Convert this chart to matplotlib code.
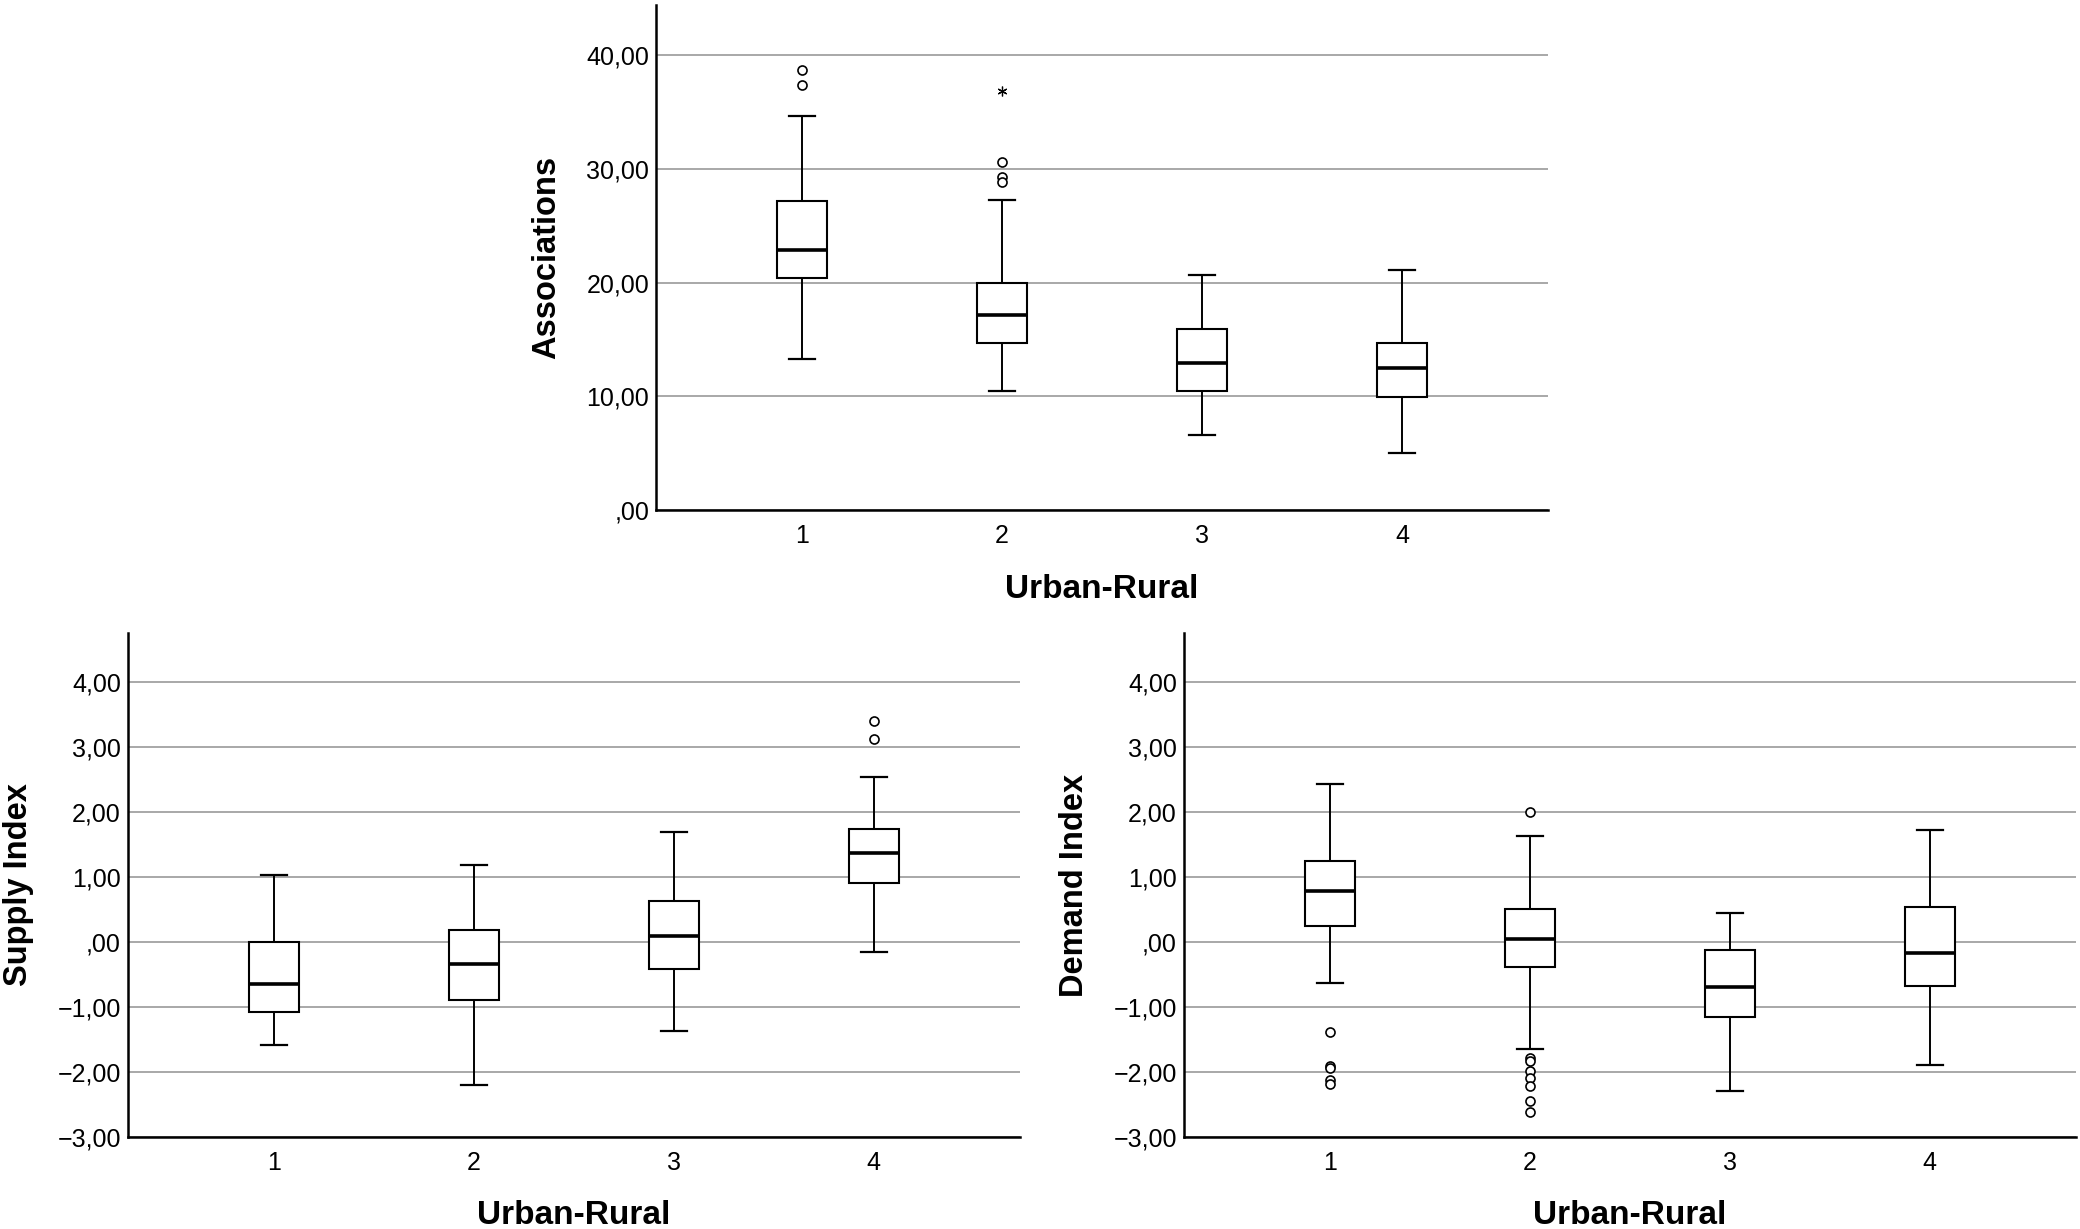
"""Box plots of associations, supply and demand index by urban-rural class."""
import matplotlib.pyplot as plt
from matplotlib.ticker import FuncFormatter

plt.rcParams["font.family"] = ["Liberation Sans", "DejaVu Sans"]

categories = ["1", "2", "3", "4"]

# Associations
assoc_lo = [13.3, 10.5, 6.6, 5.05]
assoc_q1 = [20.4, 14.7, 10.5, 9.9]
assoc_med = [22.9, 17.15, 12.95, 12.5]
assoc_q3 = [27.2, 19.95, 15.9, 14.7]
assoc_hi = [34.65, 27.25, 20.7, 21.1]
assoc_out = [[38.65, 37.4], [30.6, 29.3, 28.8], [], []]
assoc_extreme = [[], [36.8], [], []]

# Supply Index
supply_lo = [-1.59, -2.20, -1.37, -0.16]
supply_q1 = [-1.08, -0.89, -0.41, 0.91]
supply_med = [-0.65, -0.34, 0.09, 1.37]
supply_q3 = [-0.01, 0.18, 0.63, 1.73]
supply_hi = [1.03, 1.18, 1.69, 2.53]
supply_out = [[], [], [], [3.39, 3.12]]

# Demand Index
demand_lo = [-0.63, -1.65, -2.30, -1.90]
demand_q1 = [0.25, -0.38, -1.15, -0.68]
demand_med = [0.78, 0.05, -0.69, -0.17]
demand_q3 = [1.24, 0.50, -0.13, 0.53]
demand_hi = [2.43, 1.63, 0.44, 1.72]
demand_out = [[-1.38, -1.91, -1.94, -2.13, -2.18],
              [1.99, -1.78, -1.83, -1.98, -2.09, -2.22, -2.44, -2.62], [], []]


def spss_number(v, pos=None):
    """Formats tick values like SPSS with a decimal comma (",00", "−1,00")."""
    s = f"{abs(v):.2f}".replace(".", ",")
    if s.startswith("0"):
        s = s[1:]
    return ("\u2212" + s) if v < 0 else s


def boxPanel(ax, lo, q1, med, q3, hi, out, ylabel, ylim, yticks, extreme=None):
    """Draws one SPSS style box plot panel from summary statistics."""
    stats = []
    for i in range(len(categories)):
        stats.append({"whislo": lo[i], "q1": q1[i], "med": med[i], "q3": q3[i],
                      "whishi": hi[i], "fliers": out[i], "label": categories[i]})
    pos = list(range(1, len(categories) + 1))
    ax.bxp(stats, positions=pos, widths=0.25, patch_artist=True, capwidths=0.13,
           boxprops=dict(facecolor="white", edgecolor="black", linewidth=1.5),
           medianprops=dict(color="black", linewidth=2.6),
           whiskerprops=dict(color="black", linewidth=1.4),
           capprops=dict(color="black", linewidth=1.6),
           flierprops=dict(marker="o", markersize=6.5, markerfacecolor="white",
                           markeredgecolor="black", markeredgewidth=1.2, linestyle="none"),
           zorder=3)
    if extreme is not None:
        for p, vals in zip(pos, extreme):
            if vals:
                ax.plot([p] * len(vals), vals, linestyle="none", marker=(6, 2, 0),
                        markersize=7, markeredgewidth=0.9, color="black", zorder=4)

    ax.set_xlim(0.27, 4.73)
    ax.set_ylim(*ylim)
    ax.set_yticks(yticks)
    ax.yaxis.set_major_formatter(FuncFormatter(spss_number))
    ax.grid(axis="y", color="#a8a8a8", linewidth=1.4, zorder=0)
    ax.set_axisbelow(True)
    for side in ["top", "right"]:
        ax.spines[side].set_visible(False)
    for side in ["left", "bottom"]:
        ax.spines[side].set_linewidth(1.8)
    ax.tick_params(axis="both", length=0, labelsize=18)
    ax.tick_params(axis="x", pad=10)
    ax.tick_params(axis="y", pad=5)
    ax.set_xlabel("Urban-Rural", fontsize=24, fontweight="bold")
    ax.set_ylabel(ylabel, fontsize=23.5, fontweight="bold")
    ax.xaxis.set_label_coords(0.5, -0.126)
    ax.yaxis.set_label_coords(-0.105, 0.5)


fig = plt.figure(figsize=(20.8, 12.29), dpi=100)
ax_top = fig.add_axes([0.3154, 0.585, 0.4288, 0.4109])
ax_sup = fig.add_axes([0.0615, 0.0749, 0.4288, 0.4101])
ax_dem = fig.add_axes([0.5692, 0.0749, 0.4288, 0.4101])

boxPanel(ax_top, assoc_lo, assoc_q1, assoc_med, assoc_q3, assoc_hi, assoc_out,
         "Associations", (0, 44.4), [0, 10, 20, 30, 40], extreme=assoc_extreme)
boxPanel(ax_sup, supply_lo, supply_q1, supply_med, supply_q3, supply_hi, supply_out,
         "Supply Index", (-3, 4.75), list(range(-3, 5)))
boxPanel(ax_dem, demand_lo, demand_q1, demand_med, demand_q3, demand_hi, demand_out,
         "Demand Index", (-3, 4.75), list(range(-3, 5)))

fig.savefig("out.png", dpi=100)
